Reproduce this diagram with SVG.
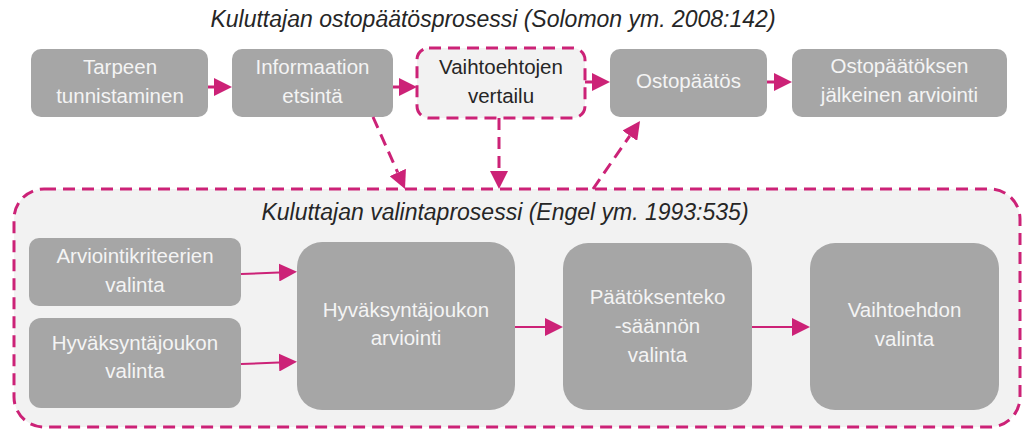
<svg xmlns="http://www.w3.org/2000/svg" width="1022" height="430" viewBox="0 0 1022 430">
  <style>
    .box { fill: #a6a6a6; }
    .dash { fill: #f2f2f2; stroke: #cc2277; stroke-width: 3; stroke-dasharray: 12 7; }
    .lbl { font-family: "Liberation Sans", Arial, sans-serif; font-size: 20.5px; fill: #f4f4f4; text-anchor: middle; }
    .lbl.dark { fill: #262626; }
    .title { font-family: "Liberation Sans", Arial, sans-serif; font-size: 23px; font-style: italic; fill: #262626; text-anchor: middle; }
    .flow { fill: none; stroke: #cc2277; stroke-width: 3; marker-end: url(#head); }
    .flow.thin { stroke-width: 2; }
    .flow.dashed { stroke-dasharray: 12 7; }
  </style>
  <defs>
    <marker id="head" markerUnits="userSpaceOnUse" markerWidth="18" markerHeight="18" refX="0" refY="9" orient="auto" viewBox="0 0 18 18">
      <path d="M0,0 L18,9 L0,18 Z" fill="#cc2277"/>
    </marker>
  </defs>

  <rect width="1022" height="430" fill="#ffffff"/>

  <!-- titles -->
  <text class="title" x="493" y="27">Kuluttajan ostopäätösprosessi (Solomon ym. 2008:142)</text>

  <!-- container: choice process -->
  <g id="valintaprosessi">
    <rect class="dash" x="14" y="189" width="1006" height="238" rx="30"/>
    <text class="title" x="505" y="220">Kuluttajan valintaprosessi (Engel ym. 1993:535)</text>
  </g>

  <!-- purchase decision process -->
  <g id="tarpeen-tunnistaminen">
    <rect class="box" x="31" y="49" width="177" height="68" rx="10"/>
    <text class="lbl" x="120" y="74">Tarpeen</text>
    <text class="lbl" x="120" y="103">tunnistaminen</text>
  </g>
  <g id="informaation-etsinta">
    <rect class="box" x="232" y="49" width="161" height="68" rx="10"/>
    <text class="lbl" x="312.5" y="74">Informaation</text>
    <text class="lbl" x="312.5" y="103">etsintä</text>
  </g>
  <g id="vaihtoehtojen-vertailu">
    <rect class="dash" x="417" y="48" width="168" height="70" rx="12"/>
    <text class="lbl dark" x="501" y="74">Vaihtoehtojen</text>
    <text class="lbl dark" x="501" y="103">vertailu</text>
  </g>
  <g id="ostopaatos">
    <rect class="box" x="610" y="49" width="157" height="68" rx="10"/>
    <text class="lbl" x="688.5" y="88">Ostopäätös</text>
  </g>
  <g id="jalkeinen-arviointi">
    <rect class="box" x="792" y="49" width="215" height="68" rx="10"/>
    <text class="lbl" x="899.5" y="73">Ostopäätöksen</text>
    <text class="lbl" x="899.5" y="102">jälkeinen arviointi</text>
  </g>

  <!-- choice process steps -->
  <g id="arviointikriteerien-valinta">
    <rect class="box" x="29" y="238" width="212" height="68" rx="10"/>
    <text class="lbl" x="135" y="263">Arviointikriteerien</text>
    <text class="lbl" x="135" y="292">valinta</text>
  </g>
  <g id="hyvaksyntajoukon-valinta">
    <rect class="box" x="29" y="318" width="212" height="90" rx="12"/>
    <text class="lbl" x="135" y="350">Hyväksyntäjoukon</text>
    <text class="lbl" x="135" y="378">valinta</text>
  </g>
  <g id="hyvaksyntajoukon-arviointi">
    <rect class="box" x="297" y="242" width="218" height="168" rx="25"/>
    <text class="lbl" x="406" y="317">Hyväksyntäjoukon</text>
    <text class="lbl" x="406" y="345">arviointi</text>
  </g>
  <g id="paatoksentekosaannon-valinta">
    <rect class="box" x="563" y="243" width="189" height="167" rx="25"/>
    <text class="lbl" x="657.5" y="304">Päätöksenteko</text>
    <text class="lbl" x="657.5" y="333">-säännön</text>
    <text class="lbl" x="657.5" y="362">valinta</text>
  </g>
  <g id="vaihtoehdon-valinta">
    <rect class="box" x="810" y="243" width="189" height="167" rx="25"/>
    <text class="lbl" x="904.5" y="317">Vaihtoehdon</text>
    <text class="lbl" x="904.5" y="346">valinta</text>
  </g>

  <!-- connectors (paths end at the arrowhead base) -->
  <g id="connectors">
    <path class="flow" d="M208,87 L214,87"/>
    <path class="flow" d="M393,87 L399,87"/>
    <path class="flow" d="M585,82 L592,82"/>
    <path class="flow" d="M767,82 L774,82"/>

    <path class="flow dashed" d="M373,117 L397.7,172.5"/>
    <path class="flow dashed" d="M499,118 L499,171"/>
    <path class="flow dashed" d="M593,189 L629.8,135.8"/>

    <path class="flow thin" d="M241,274 L279,272.5"/>
    <path class="flow thin" d="M241,364 L279,362.5"/>
    <path class="flow thin" d="M515,327 L545,327"/>
    <path class="flow thin" d="M752,327 L792,327"/>
  </g>
</svg>
